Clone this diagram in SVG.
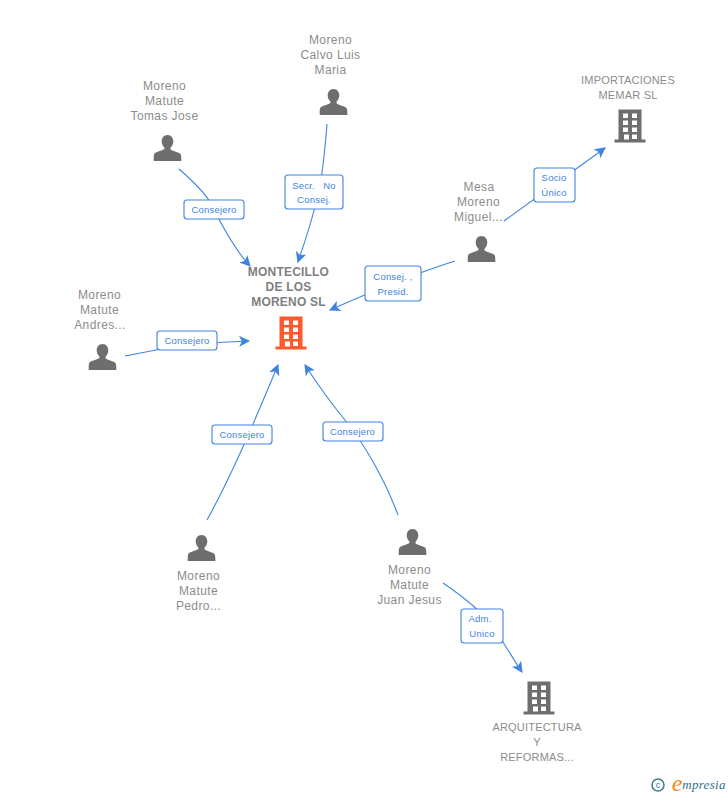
<svg xmlns="http://www.w3.org/2000/svg" width="728" height="795" viewBox="0 0 728 795">
<style>
text{font-family:"Liberation Sans",Arial,sans-serif;font-size:12px;fill:#8c8c8c;text-anchor:middle;letter-spacing:.4px}
.b{font-weight:bold;fill:#808080;letter-spacing:.2px}
.s{font-size:11px;letter-spacing:.2px}
.lb rect{fill:#fff;stroke:#3f83e0;stroke-width:1.1}
.lb text{font-size:9.500px;fill:#3f83e0;letter-spacing:.2px}
.c{fill:none;stroke:#3f83e0;stroke-width:1.1;marker-end:url(#a)}
.p{fill:#6e6e6e}
</style>
<defs>
<marker id="a" viewBox="0 0 10 10" refX="9" refY="5" markerWidth="11" markerHeight="11" markerUnits="userSpaceOnUse" orient="auto"><path d="M0 0L10 5L0 10L2.500 5Z" fill="#3f83e0"/></marker>
<g id="person"><path d="M0-15c3.700 0 5.800 3 5.800 6.300c0 2.500-1 4.800-2.700 6.300v1.600c0 1 5.600 2.200 8.500 3.800c2 1 2.200 2.500 2.200 5.500v2.500H-13.800V8c0-3 .2-4.500 2.200-5.500c2.900-1.600 8.500-2.800 8.500-3.800V-2.400C-4.800-3.900-5.800-6.200-5.800-8.700C-5.800-12-3.700-15 0-15Z"/></g>
<g id="bld"><path fill-rule="evenodd" d="M-11.500-16.500H11.500V13.500H15.500V16.500H-15.500V13.500H-11.500ZM-7-12.500V-8H-2V-12.500ZM2-12.500V-8H7V-12.500ZM-7-5.500V-1H-2V-5.500ZM2-5.500V-1H7V-5.500ZM-7 1.500V6H-2V1.500ZM2 1.500V6H7V1.500ZM-6 8.500V13.500H-1V8.500ZM2 8.500V13H7V8.500Z"/></g>
</defs>
<g id="connectors">
<path class="c" d="M179 169C195 183 204 192 210 202C222 226 235 250 250 266"/>
<path class="c" d="M327 124C325 150 323 170 319 190C314 215 306 238 298 262"/>
<path class="c" d="M455 261C420 272 375 290 330 310"/>
<path class="c" d="M504 221L605 148"/>
<path class="c" d="M125 356C165 347 205 342 249 341"/>
<path class="c" d="M207 520C232 475 255 420 278 365"/>
<path class="c" d="M398 515C385 480 365 445 345 420C330 402 318 385 305 365"/>
<path class="c" d="M443 583C465 598 480 610 492 625C502 640 512 657 522 672"/>
</g>
<g id="label-1" class="lb"><rect x="184" y="200" width="60" height="19" rx="3"/><text x="214" y="213">Consejero</text></g>
<g id="label-2" class="lb"><rect x="285" y="175" width="58" height="34" rx="3"/><text x="314" y="189" xml:space="preserve">Secr.   No</text><text x="314" y="203">Consej.</text></g>
<g id="label-3" class="lb"><rect x="365" y="266" width="56" height="35" rx="3"/><text x="393" y="280">Consej. ,</text><text x="393" y="295">Presid.</text></g>
<g id="label-4" class="lb"><rect x="534" y="168" width="41" height="34" rx="3"/><text x="554" y="181">Socio</text><text x="554" y="196">Único</text></g>
<g id="label-5" class="lb"><rect x="157" y="331" width="60" height="19" rx="3"/><text x="187" y="344">Consejero</text></g>
<g id="label-6" class="lb"><rect x="212" y="425" width="60" height="19" rx="3"/><text x="242" y="438">Consejero</text></g>
<g id="label-7" class="lb"><rect x="323" y="422" width="60" height="19" rx="3"/><text x="352.500" y="435">Consejero</text></g>
<g id="label-8" class="lb"><rect x="461" y="609" width="42" height="34" rx="3"/><text x="480" y="622">Adm.</text><text x="482" y="637">Unico</text></g>
<g id="node-main"><text class="b" x="288.500" y="276">MONTECILLO</text><text class="b" x="288.500" y="291">DE LOS</text><text class="b" x="288.500" y="306">MORENO SL</text><use href="#bld" x="291" y="333" fill="#ff5a2d"/></g>
<g id="node-calvo"><text x="330.500" y="44">Moreno</text><text x="330.500" y="59">Calvo Luis</text><text x="330.500" y="74">Maria</text><use href="#person" x="333.500" y="104" class="p"/></g>
<g id="node-tomas"><text x="164.500" y="90">Moreno</text><text x="164.500" y="105">Matute</text><text x="164.500" y="120">Tomas Jose</text><use href="#person" x="167.500" y="150" class="p"/></g>
<g id="node-importaciones"><text class="s" x="628" y="84">IMPORTACIONES</text><text class="s" x="628" y="99">MEMAR SL</text><use href="#bld" x="630" y="126" class="p"/></g>
<g id="node-mesa"><text x="479" y="191">Mesa</text><text x="478.500" y="206">Moreno</text><text x="478.500" y="221">Miguel...</text><use href="#person" x="481.500" y="251" class="p"/></g>
<g id="node-andres"><text x="99.500" y="299">Moreno</text><text x="99.500" y="314">Matute</text><text x="100" y="329">Andres...</text><use href="#person" x="102.500" y="359" class="p"/></g>
<g id="node-pedro"><use href="#person" x="201.500" y="550" class="p"/><text x="198.500" y="580">Moreno</text><text x="198.500" y="595">Matute</text><text x="198.500" y="610">Pedro...</text></g>
<g id="node-juan"><use href="#person" x="412.500" y="544" class="p"/><text x="409.500" y="574">Moreno</text><text x="409.500" y="589">Matute</text><text x="409.500" y="604">Juan Jesus</text></g>
<g id="node-arquitectura"><use href="#bld" x="539" y="698" class="p"/><text class="s" x="537" y="731">ARQUITECTURA</text><text class="s" x="537" y="746">Y</text><text class="s" x="537" y="761">REFORMAS...</text></g>
<g id="brand"><circle cx="658" cy="785" r="6" fill="none" stroke="#3d7a90" stroke-width="1.500"/><text x="658" y="788" style="font-size:9px;fill:#3d7a90;letter-spacing:0">c</text><text x="677" y="791" style="font-family:'Liberation Serif',serif;font-style:italic;font-size:24px;fill:#f08a1d;letter-spacing:0">e</text><text x="704" y="789" style="font-family:'Liberation Serif',serif;font-style:italic;font-size:13px;fill:#2f6f88;letter-spacing:.3px">mpresia</text></g>
</svg>
